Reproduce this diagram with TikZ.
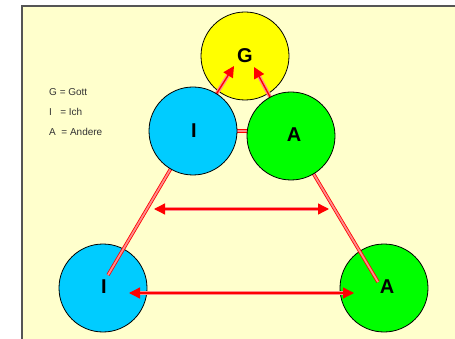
\documentclass[tikz,border=0pt]{standalone}
\usepackage{fontspec}
\setmainfont{Liberation Sans}
\usetikzlibrary{arrows.meta}
\definecolor{panel}{HTML}{FFFFCC}
\definecolor{frame}{HTML}{555555}
\definecolor{gottcol}{HTML}{FFFF00}
\definecolor{ichcol}{HTML}{00CCFF}
\definecolor{anderecol}{HTML}{00FF00}
\definecolor{legendtext}{HTML}{333333}
\tikzset{
  disc/.style={circle, draw=black, line width=0.8pt, minimum size=88pt, inner sep=0pt},
  letter/.style={font=\fontsize{20}{20}\selectfont\bfseries, text=black},
  legend/.style={anchor=west, font=\fontsize{10}{10}\selectfont, text=legendtext, inner sep=0pt},
  bond/.style={draw=red, line width=0.8pt, double=red!45, double distance=1.8pt},
  tipshape/.style={-{Triangle[length=11pt,width=11pt]}},
  pointer/.style={red, line width=1.3pt, tipshape,
    preaction={draw=red!45, line width=3.8pt, arrows=-, shorten >=9pt}},
  twoway/.style={red, line width=1.3pt, {Triangle[length=11pt,width=11pt]}-{Triangle[length=11pt,width=11pt]},
    preaction={draw=red!45, line width=3.8pt, arrows=-, shorten >=9pt, shorten <=9pt}}
}
\begin{document}
\begin{tikzpicture}[x=1pt, y=-1pt]
  \useasboundingbox (0,0) rectangle (455,339);
  % background panel with frame on the left and top
  \fill[panel] (22,6) rectangle (455,339);
  \draw[frame, line width=1.2pt] (22,339) -- (22,6) -- (455,6);

  % legend
  \node[legend] (lg) at (49,92) {G = Gott};
  \node[legend] (li) at (49,112) {I\ \ \ = Ich};
  \node[legend] (la) at (49,132) {A\ \ = Andere};

  % circles underneath the connectors
  \node[disc, fill=gottcol] (G) at (245,56) {};
  \node[disc, fill=ichcol] (Ibot) at (103,288) {};
  \node[disc, fill=anderecol] (Abot) at (384,288) {};

  % positions of the free connector ends
  \coordinate (Itop-c) at (193,131);
  \coordinate (Atop-c) at (291,136);
  \coordinate (gI) at (234,66);
  \coordinate (gA) at (254,67);
  \coordinate (endI) at (108,275);
  \coordinate (endA) at (378,282);
  \coordinate (midL) at (154,209);
  \coordinate (midR) at (329,209);
  \coordinate (lowL) at (129,293);
  \coordinate (lowR) at (354,293);

  % connectors
  \draw[pointer] (Itop-c) -- (gI);
  \draw[pointer] (Atop-c) -- (gA);
  \draw[bond] (Itop-c) -- (Itop-c -| Atop-c);
  \draw[bond] (Itop-c) -- (endI);
  \draw[bond] (Atop-c) -- (endA);
  \draw[twoway] (midL) -- (midR);
  \draw[twoway] (lowL) -- (lowR);

  % circles on top of the connectors
  \node[disc, fill=ichcol] (Itop) at (Itop-c) {};
  \node[disc, fill=anderecol] (Atop) at (Atop-c) {};

  % letters
  \node[letter] at (245,56) {G};
  \node[letter] at (194,131) {I};
  \node[letter] at (294,135) {A};
  \node[letter] at (104,287) {I};
  \node[letter] at (387,287) {A};
\end{tikzpicture}
\end{document}
